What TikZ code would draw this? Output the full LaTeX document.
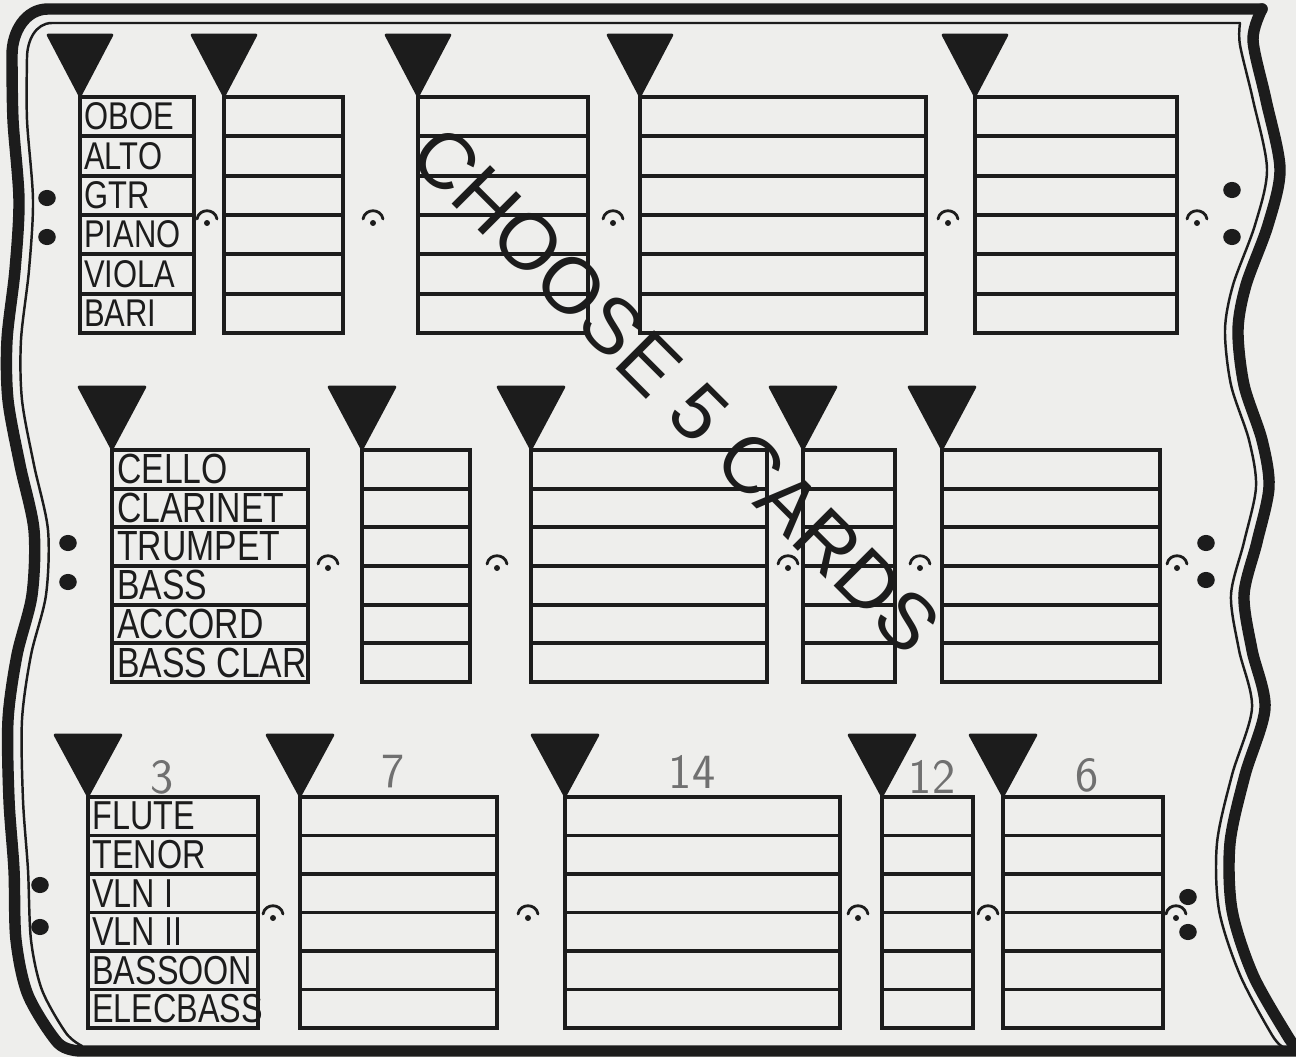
\documentclass[tikz,border=0pt]{standalone}
\usepackage{fontspec}
\setmainfont{Liberation Sans}
\newfontfamily\lblfont[FakeStretch=0.8]{Liberation Sans}
\definecolor{paper}{RGB}{238,238,236}
\definecolor{ink}{RGB}{28,28,28}
\definecolor{pencil}{RGB}{112,112,112}
\tikzset{
  rim/.style={draw=ink,line width=6.5pt,line cap=round,line join=round},
  rimthin/.style={draw=ink,line width=1.4pt,line cap=round,line join=round},
  staffline/.style={draw=ink,line width=2.2pt},
  flag/.style={fill=ink,draw=ink,line width=1.5pt,line join=round},
  hold/.style={draw=ink,line width=1.6pt,line cap=round},
  instr/.style={anchor=west,inner sep=0pt,text=ink},
  tally/.style={text=pencil,font=\sffamily\fontsize{28}{28}\selectfont,inner sep=0pt},
}
\begin{document}
\begin{tikzpicture}[x=0.02cm,y=-0.02cm]
\useasboundingbox (0,0) rectangle (1296,1057);
\fill[paper] (0,0) rectangle (1296,1057);

\draw[rim] (1262,9) -- (48,9) to[out=180,in=90] (12,55)
  -- plot[smooth] coordinates {(12,55) (13,120) (19,200) (15,270) (7,340) (8,400) (20,465) (34,530) (32,595) (17,655) (8,720) (9,800) (14,870) (16,940) (28,995) (58,1043) (80,1051)}
  -- (1296,1051);
\draw[rim] plot[smooth] coordinates {(1262,9) (1253,40) (1266,100) (1280,169) (1268,225) (1246,285) (1238,330) (1244,385) (1262,440) (1269,487) (1257,542) (1244,595) (1252,650) (1265,708) (1245,775) (1230,843) (1232,910) (1253,975) (1287,1035) (1296,1047)};
\draw[rimthin] (1240,23) -- (52,23) to[out=180,in=90] (27,58)
  -- plot[smooth] coordinates {(27,58) (27,120) (33,200) (29,270) (21,340) (22,400) (34,465) (48,530) (46,595) (31,655) (22,720) (23,800) (28,870) (31,940) (42,990) (66,1033) (82,1046)};
\draw[rimthin] plot[smooth] coordinates {(1240,23) (1240,45) (1253,100) (1267,169) (1255,225) (1233,285) (1225,330) (1231,385) (1249,440) (1256,487) (1244,542) (1231,595) (1239,650) (1252,708) (1232,775) (1217,843) (1219,910) (1240,975) (1272,1035) (1283,1047)};

\foreach \l/\r in {80/194,224/343,418/588,640/926,975/1177}{
  \fill[flag] (\l-32,35) -- (\l+32,35) -- (\l,96) -- cycle;
  \draw[staffline] (\l,97) rectangle (\r,333);
  \foreach \k in {1,...,5}
    \draw[staffline] (\l,97+\k*39.33) -- (\r,97+\k*39.33);
}
\foreach \f in {207,373,613,948,1197}{
  \draw[hold] (\f-10,219) .. controls (\f-8,208) and (\f+8,208) .. (\f+10,219);
  \fill[ink] (\f,223) circle (1.7pt);
}
\fill[ink] (47,198) ellipse [x radius=5pt,y radius=4.6pt];
\fill[ink] (47,237) ellipse [x radius=5pt,y radius=4.6pt];
\fill[ink] (1232,190) ellipse [x radius=5pt,y radius=4.6pt];
\fill[ink] (1232,237) ellipse [x radius=5pt,y radius=4.6pt];
\foreach \n/\t [count=\k] in {oboe/OBOE,alto/ALTO,gtr/GTR,piano/PIANO,viola/VIOLA,bari/BARI}
  \node[instr,font=\lblfont\fontsize{22}{22}\selectfont] (\n) at (84,97+\k*39.33-19.67) {\t};

\foreach \l/\r in {112/308,362/470,531/767,803/895,942/1160}{
  \fill[flag] (\l-33,387) -- (\l+33,387) -- (\l,449) -- cycle;
  \draw[staffline] (\l,450) rectangle (\r,682);
  \foreach \k in {1,...,5}
    \draw[staffline] (\l,450+\k*38.67) -- (\r,450+\k*38.67);
}
\foreach \f in {328,497,788,920,1177}{
  \draw[hold] (\f-10,564) .. controls (\f-8,553) and (\f+8,553) .. (\f+10,564);
  \fill[ink] (\f,568) circle (1.7pt);
}
\fill[ink] (68,543) ellipse [x radius=5pt,y radius=4.6pt];
\fill[ink] (68,582) ellipse [x radius=5pt,y radius=4.6pt];
\fill[ink] (1206,543) ellipse [x radius=5pt,y radius=4.6pt];
\fill[ink] (1206,580) ellipse [x radius=5pt,y radius=4.6pt];
\foreach \n/\t [count=\k] in {cello/CELLO,clarinet/CLARINET,trumpet/TRUMPET,bass/BASS,accord/ACCORD,bassclar/BASS CLAR}
  \node[instr,font=\lblfont\fontsize{24}{24}\selectfont] (\n) at (117,450+\k*38.67-19.33) {\t};

\foreach \l/\r in {88/258,300/497,565/840,882/973,1003/1163}{
  \fill[flag] (\l-33,735) -- (\l+33,735) -- (\l,796) -- cycle;
  \draw[staffline] (\l,797) rectangle (\r,1028);
  \foreach \k in {1,...,5}
    \draw[staffline] (\l,797+\k*38.5) -- (\r,797+\k*38.5);
}
\foreach \f in {273,528,858,988,1176}{
  \draw[hold] (\f-10,914) .. controls (\f-8,903) and (\f+8,903) .. (\f+10,914);
  \fill[ink] (\f,918) circle (1.7pt);
}
\fill[ink] (40,885) ellipse [x radius=5pt,y radius=4.6pt];
\fill[ink] (40,927) ellipse [x radius=5pt,y radius=4.6pt];
\fill[ink] (1188,897) ellipse [x radius=5pt,y radius=4.6pt];
\fill[ink] (1188,932) ellipse [x radius=5pt,y radius=4.6pt];
\foreach \n/\t [count=\k] in {flute/FLUTE,tenor/TENOR,vlnone/VLN I,vlntwo/VLN II,bassoon/BASSOON,elecbass/ELECBASS}
  \node[instr,font=\lblfont\fontsize{23}{23}\selectfont] (\n) at (92,797+\k*38.5-19.25) {\t};

\node[tally] (three) at (162,777) {3};
\node[tally] (seven) at (393,772) {7};
\node[tally] (fourteen) at (692,772) {14};
\node[tally] (twelve) at (932,777) {12};
\node[tally] (six) at (1087,775) {6};

\node[rotate=-45,text=ink,inner sep=0pt,font=\fontsize{45}{45}\selectfont] (choose) at (676,390) {CHOOSE 5 CARDS};
\end{tikzpicture}
\end{document}
